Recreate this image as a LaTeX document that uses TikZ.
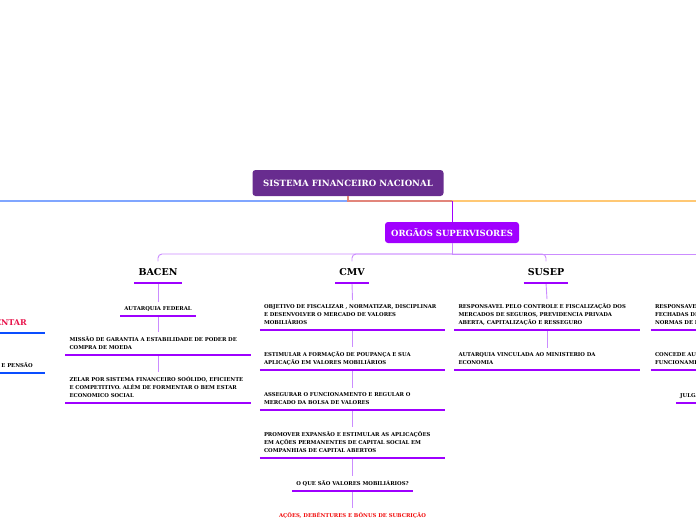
\documentclass[tikz,border=0pt]{standalone}
\usepackage{fontspec}
\setmainfont{DejaVu Serif}
\definecolor{sfnpurple}{HTML}{682C8F}
\definecolor{orgviolet}{HTML}{A100FF}
\definecolor{ulviolet}{HTML}{9E00FF}
\definecolor{linkviolet}{HTML}{CB8CFF}
\definecolor{mainblue}{HTML}{80A6FF}
\definecolor{mainred}{HTML}{E2857B}
\definecolor{mainorange}{HTML}{FFC874}
\definecolor{leftblue}{HTML}{0A4DFF}
\definecolor{headred}{HTML}{E8124A}
\definecolor{itemred}{HTML}{F00A0A}
\begin{document}
\begin{tikzpicture}[x=1pt, y=-1pt,
  titlebox/.style={fill=sfnpurple, rounded corners=3pt, text=white,
    font=\fontsize{8.6}{10}\selectfont\bfseries, minimum width=191pt, minimum height=26pt},
  groupbox/.style={fill=orgviolet, rounded corners=3pt, text=white,
    font=\fontsize{8.5}{10}\selectfont\bfseries, minimum width=134pt, minimum height=21pt},
  colhead/.style={anchor=south, font=\fontsize{9.5}{11}\selectfont\bfseries,
    inner xsep=4pt, inner ysep=7pt},
  itemtext/.style={anchor=south, font=\fontsize{5.3}{8}\selectfont\bfseries,
    inner xsep=4pt, inner ysep=4pt,
    execute at begin node={\hyphenpenalty=10000\exhyphenpenalty=10000},
    execute at end node={\vrule width 0pt depth 1.5pt}},
  wideitem/.style={itemtext, text width=177pt, align=left},
  uline/.style={draw=ulviolet, line width=2.6pt},
  ublue/.style={draw=leftblue, line width=2.6pt},
  link/.style={draw=linkviolet, line width=0.9pt},
]
  \useasboundingbox (0,0) rectangle (696,520);
  \clip (0,0) rectangle (696,520);
  \node[titlebox] (sfn) at (348,183) {SISTEMA FINANCEIRO NACIONAL};
  \node[groupbox] (orgaos) at (452,232.5) {ORGÃOS SUPERVISORES};
  \coordinate (lft) at (0,201);
  \coordinate (rgt) at (696,201);
  \coordinate (fork) at (452,201);
  \coordinate (cfork) at (452,254);
  \coordinate (crgt) at (696,254);
  % main branches
  \draw[mainblue, line width=1.5pt] (sfn.south) |- (lft);
  \draw[mainorange, line width=1.5pt] (fork) -- (rgt);
  \draw[mainred, line width=1.5pt] (sfn.south) |- (fork);
  \draw[orgviolet, line width=1pt] (fork) -- (orgaos.north);
  % left column (cut off)
  \node[colhead, text width=177pt, align=center, text=headred,
    font=\fontsize{8}{10}\selectfont\bfseries] (lh) at (-47.5,333) {PREVIDÊNCIA COMPLEMENTAR};
  \node[itemtext, text width=177pt, align=center] (l1) at (-47.5,373)
    {ENTIDADES FECHADAS DE PREVIDÊNCIA E PENSÃO};
  % columns
  \node[colhead] (bacen) at (158,283) {BACEN};
  \node[colhead] (cmv) at (352,283) {CMV};
  \node[colhead] (susep) at (546,283) {SUSEP};
  \node[itemtext] (b1) at (158,316) {AUTARQUIA FEDERAL};
  \node[wideitem] (b2) at (158,355)
    {MISSÃO DE GARANTIA A ESTABILIDADE DE PODER DE\\COMPRA DE MOEDA};
  \node[wideitem] (b3) at (158,403)
    {ZELAR POR SISTEMA FINANCEIRO SOÓLIDO, EFICIENTE\\E COMPETITIVO. ALÉM DE FORMENTAR O BEM ESTAR\\ECONOMICO SOCIAL};
  \node[wideitem] (c1) at (352.5,330)
    {OBJETIVO DE FISCALIZAR , NORMATIZAR, DISCIPLINAR\\E DESENVOLVER O MERCADO DE VALORES\\MOBILIÁRIOS};
  \node[wideitem] (c2) at (352.5,370)
    {ESTIMULAR A FORMAÇÃO DE POUPANÇA E SUA\\APLICAÇÃO EM VALORES MOBILIÁRIOS};
  \node[wideitem] (c3) at (352.5,410)
    {ASSEGURAR O FUNCIONAMENTO E REGULAR O\\MERCADO DA BOLSA DE VALORES};
  \node[wideitem] (c4) at (352.5,458)
    {PROMOVER EXPANSÃO E ESTIMULAR AS APLICAÇÕES\\EM AÇÕES PERMANENTES DE CAPITAL SOCIAL EM\\COMPANHIAS DE CAPITAL ABERTOS};
  \node[itemtext] (c5) at (352.5,491) {O QUE SÃO VALORES MOBILIÁRIOS?};
  \node[itemtext, text=itemred] (c6) at (352.5,523) {AÇÕES, DEBÊNTURES E BÔNUS DE SUBCRIÇÃO};
  \node[wideitem] (s1) at (547,330)
    {RESPONSAVEL PELO CONTROLE E FISCALIZAÇÃO DOS\\MERCADOS DE SEGUROS, PREVIDENCIA PRIVADA\\ABERTA, CAPITALIZAÇÃO E RESSEGURO};
  \node[wideitem] (s2) at (547,370)
    {AUTARQUIA VINCULADA AO MINISTERIO DA\\ECONOMIA};
  % right column (cut off)
  \node[wideitem] (r1) at (743.5,330)
    {RESPONSAVEL PELAS ENTIDADES\\FECHADAS DE PREVIDÊNCIA\\NORMAS DE FUNCIONAMENTO};
  \node[wideitem] (r2) at (743.5,370)
    {CONCEDE AUTORIZAÇÃO PARA O\\FUNCIONAMENTO DAS ENTIDADES};
  \node[itemtext] (r3) at (743.5,403) {JULGA OS RECURSOS ADMINISTRATIVOS};
  % connectors
  \draw[link] (orgaos.south) -- (cfork);
  \draw[link] (cfork) -- (crgt);
  \foreach \col in {bacen, cmv, susep}
    \draw[link, rounded corners=4pt] (cfork) -| (\col.north);
  \foreach \a/\b in {bacen/b1, b1/b2, b2/b3, cmv/c1, c1/c2, c2/c3, c3/c4, c4/c5, c5/c6,
      susep/s1, s1/s2}
    \draw[link] (\a.south) -- (\b.north);
  \foreach \n in {bacen, b1, b2, b3, cmv, c1, c2, c3, c4, c5, susep, s1, s2, r1, r2, r3}
    \draw[uline] (\n.south west) -- (\n.south east);
  \foreach \n in {lh, l1}
    \draw[ublue] (\n.south west) -- (\n.south east);
\end{tikzpicture}
\end{document}
